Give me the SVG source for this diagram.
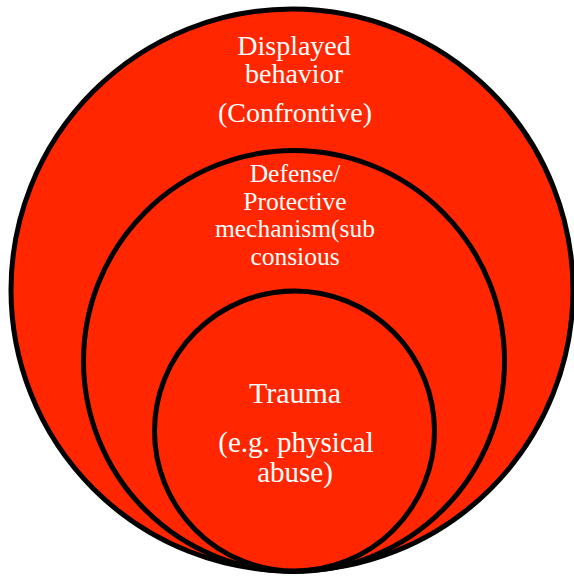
<svg xmlns="http://www.w3.org/2000/svg" width="574" height="578" viewBox="0 0 574 578">
<style>
.ring{fill:#ff2600;stroke:#000;stroke-width:5}
.lbl{fill:#fff;font-family:"Liberation Serif","DejaVu Serif",serif;text-anchor:middle}
</style>
<rect width="574" height="578" fill="#fff"/>
<g id="displayed-behavior">
<circle class="ring" cx="292" cy="290" r="281"/>
<text class="lbl" font-size="28"><tspan x="294" y="55">Displayed</tspan><tspan x="294" y="83">behavior</tspan><tspan x="295" y="122">(Confrontive)</tspan></text>
</g>
<g id="defense-mechanism">
<circle class="ring" cx="294" cy="361" r="210.5"/>
<text class="lbl" font-size="25.5"><tspan x="295" y="182">Defense/</tspan><tspan x="295" y="210">Protective</tspan><tspan x="295" y="237">mechanism(sub</tspan><tspan x="295" y="265">consious</tspan></text>
</g>
<g id="trauma">
<circle class="ring" cx="294.5" cy="431" r="140"/>
<text class="lbl" font-size="30"><tspan x="295" y="403">Trauma</tspan></text>
<text class="lbl" font-size="29"><tspan x="296" y="452">(e.g. physical</tspan><tspan x="295" y="482">abuse)</tspan></text>
</g>
<g id="connectors"/>
</svg>
